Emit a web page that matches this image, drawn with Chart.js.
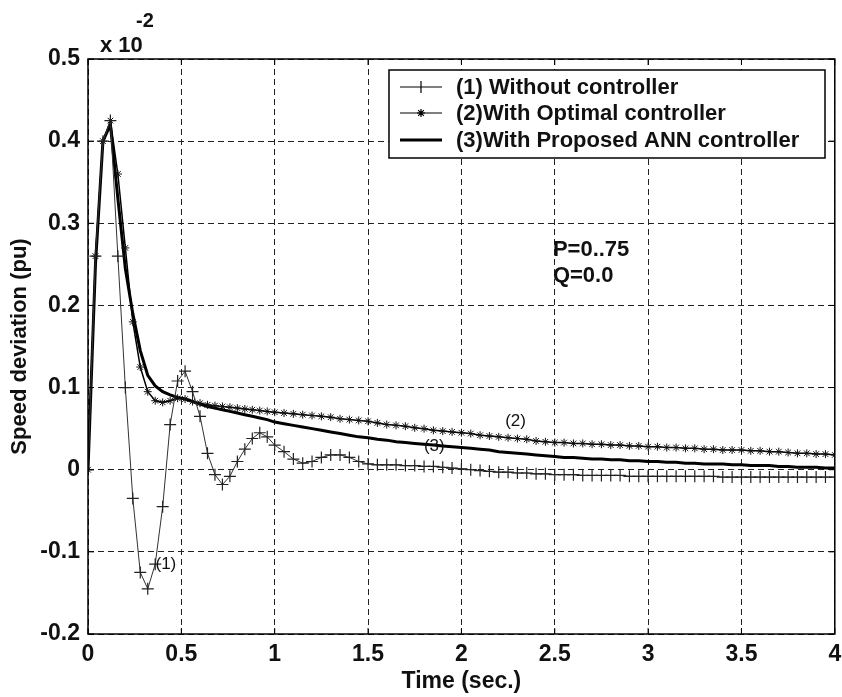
<!DOCTYPE html>
<html>
<head>
<meta charset="utf-8">
<script src="https://cdn.jsdelivr.net/npm/chart.js@4"></script>
<style>
  html, body { margin: 0; padding: 0; background: #fff; }
  #wrap { width: 842px; height: 697px; }
</style>
</head>
<body>
<div id="wrap"><canvas id="chart" width="842" height="697"></canvas></div>
<script>
// time axis (sec.)
const times = [
  0, 0.04, 0.08, 0.12, 0.16, 0.2, 0.24, 0.28, 0.32, 0.36, 0.4, 0.44, 0.48, 0.52, 0.56, 0.6,
  0.64, 0.68, 0.72, 0.76, 0.8, 0.84, 0.88, 0.92, 0.96, 1.0,
  1.05, 1.1, 1.15, 1.2, 1.25, 1.3, 1.35, 1.4, 1.45, 1.5, 1.55, 1.6, 1.65, 1.7, 1.75, 1.8, 1.85, 1.9, 1.95, 2.0,
  2.05, 2.1, 2.15, 2.2, 2.25, 2.3, 2.35, 2.4, 2.45, 2.5, 2.55, 2.6, 2.65, 2.7, 2.75, 2.8, 2.85, 2.9, 2.95, 3.0,
  3.05, 3.1, 3.15, 3.2, 3.25, 3.3, 3.35, 3.4, 3.45, 3.5, 3.55, 3.6, 3.65, 3.7, 3.75, 3.8, 3.85, 3.9, 3.95, 4.0
];

// speed deviation, x 10^-2 pu
const withoutController = [
  0, 0.26, 0.40, 0.425, 0.26, 0.10, -0.035, -0.125, -0.145, -0.115, -0.045, 0.055, 0.108, 0.12, 0.095, 0.065,
  0.02, -0.006, -0.018, -0.008, 0.01, 0.025, 0.038, 0.045, 0.04, 0.03,
  0.022, 0.013, 0.008, 0.010, 0.015, 0.018, 0.018, 0.015, 0.010, 0.007, 0.006, 0.006, 0.006, 0.005, 0.005, 0.004, 0.004, 0.003, 0.002, 0.001,
  0.000, -0.001, -0.002, -0.003, -0.003, -0.004, -0.004, -0.005, -0.005, -0.006, -0.006, -0.006, -0.007, -0.007, -0.007, -0.007, -0.007, -0.008, -0.008, -0.008,
  -0.008, -0.008, -0.008, -0.008, -0.008, -0.008, -0.008, -0.009, -0.009, -0.009, -0.009, -0.009, -0.009, -0.009, -0.009, -0.009, -0.009, -0.009, -0.009, -0.009
];

const withOptimal = [
  0, 0.26, 0.40, 0.425, 0.36, 0.27, 0.18, 0.125, 0.095, 0.084, 0.082, 0.084, 0.087, 0.086, 0.083, 0.081,
  0.079, 0.078, 0.077, 0.076, 0.075, 0.074, 0.073, 0.072, 0.071, 0.070,
  0.069, 0.068, 0.067, 0.066, 0.065, 0.064, 0.062, 0.061, 0.060, 0.059, 0.057, 0.055, 0.054, 0.053, 0.051, 0.050, 0.048, 0.047, 0.046, 0.045,
  0.044, 0.042, 0.041, 0.040, 0.039, 0.038, 0.037, 0.035, 0.034, 0.033, 0.033, 0.032, 0.032, 0.031, 0.031, 0.030, 0.030, 0.029, 0.029, 0.028,
  0.028, 0.027, 0.027, 0.026, 0.026, 0.025, 0.025, 0.024, 0.024, 0.024, 0.023, 0.023, 0.022, 0.022, 0.021, 0.020, 0.020, 0.019, 0.019, 0.018
];

const withANN = [
  0, 0.25, 0.40, 0.42, 0.33, 0.245, 0.19, 0.145, 0.115, 0.102, 0.095, 0.091, 0.088, 0.086, 0.083, 0.080,
  0.077, 0.075, 0.073, 0.071, 0.069, 0.067, 0.065, 0.063, 0.061, 0.058,
  0.056, 0.054, 0.052, 0.050, 0.048, 0.046, 0.044, 0.042, 0.040, 0.039, 0.037, 0.036, 0.034, 0.033, 0.032, 0.031, 0.030, 0.029, 0.028, 0.027,
  0.026, 0.025, 0.024, 0.022, 0.021, 0.020, 0.019, 0.018, 0.017, 0.016, 0.015, 0.015, 0.014, 0.013, 0.013, 0.012, 0.012, 0.011, 0.011, 0.010,
  0.010, 0.009, 0.009, 0.008, 0.008, 0.007, 0.007, 0.007, 0.006, 0.006, 0.005, 0.005, 0.005, 0.004, 0.004, 0.003, 0.003, 0.003, 0.002, 0.002
];

const seriesNames = ['(1) Without controller', '(2)With Optimal controller', '(3)With Proposed ANN controller'];
const xTicks = [0, 0.5, 1, 1.5, 2, 2.5, 3, 3.5, 4];
const yTicks = [-0.2, -0.1, 0, 0.1, 0.2, 0.3, 0.4, 0.5];

const FONT = '"Liberation Sans", Arial, Helvetica, sans-serif';

const toPoints = vals => times.map((t, i) => ({ x: t, y: vals[i] }));

// frame, legend box and text notes on top of the plot
const decorations = {
  id: 'decorations',
  afterDatasetsDraw(chart) {
    const { ctx, chartArea: a, scales } = chart;
    const px = v => scales.x.getPixelForValue(v);
    const py = v => scales.y.getPixelForValue(v);
    ctx.save();

    // axes box
    ctx.strokeStyle = '#000';
    ctx.lineWidth = 1.5;
    ctx.strokeRect(a.left, a.top, a.right - a.left, a.bottom - a.top);

    // small inward ticks
    ctx.lineWidth = 1;
    xTicks.forEach(t => {
      const x = px(t);
      ctx.beginPath();
      ctx.moveTo(x, a.bottom); ctx.lineTo(x, a.bottom - 6);
      ctx.moveTo(x, a.top); ctx.lineTo(x, a.top + 6);
      ctx.stroke();
    });
    yTicks.forEach(v => {
      const y = py(v);
      ctx.beginPath();
      ctx.moveTo(a.left, y); ctx.lineTo(a.left + 6, y);
      ctx.moveTo(a.right, y); ctx.lineTo(a.right - 6, y);
      ctx.stroke();
    });

    // exponent
    ctx.fillStyle = '#111';
    ctx.font = 'bold 22px ' + FONT;
    ctx.textAlign = 'left';
    ctx.textBaseline = 'middle';
    ctx.fillText('x 10', 100, 46);
    ctx.font = 'bold 20px ' + FONT;
    ctx.fillText('-2', 136, 21);

    // curve labels
    ctx.font = '17px ' + FONT;
    ctx.textAlign = 'center';
    ctx.fillText('(1)', px(0.417), py(-0.115));
    ctx.fillText('(2)', px(2.29), py(0.059));
    ctx.fillText('(3)', px(1.855), py(0.028));

    // operating point
    ctx.font = 'bold 22px ' + FONT;
    ctx.textAlign = 'left';
    ctx.fillText('P=0..75', px(2.49), py(0.268));
    ctx.fillText('Q=0.0', px(2.49), py(0.236));

    // legend
    const bx = 389, by = 70, bw = 436, bh = 88;
    ctx.fillStyle = '#fff';
    ctx.fillRect(bx, by, bw, bh);
    ctx.strokeStyle = '#000';
    ctx.lineWidth = 1.5;
    ctx.strokeRect(bx, by, bw, bh);
    const rows = [87, 113, 140];
    ctx.font = 'bold 22px ' + FONT;
    ctx.textBaseline = 'middle';
    rows.forEach((y, i) => {
      ctx.strokeStyle = '#000';
      ctx.lineWidth = i === 2 ? 3 : 1.2;
      ctx.beginPath();
      ctx.moveTo(400, y); ctx.lineTo(442, y);
      ctx.stroke();
      if (i === 0) {
        ctx.lineWidth = 1.2;
        ctx.beginPath();
        ctx.moveTo(421, y - 6); ctx.lineTo(421, y + 6);
        ctx.stroke();
      } else if (i === 1) {
        ctx.lineWidth = 1.2;
        ctx.beginPath();
        for (let k = 0; k < 4; k++) {
          const ang = k * Math.PI / 4;
          ctx.moveTo(421 - 4 * Math.cos(ang), y - 4 * Math.sin(ang));
          ctx.lineTo(421 + 4 * Math.cos(ang), y + 4 * Math.sin(ang));
        }
        ctx.stroke();
      }
      ctx.fillStyle = '#111';
      ctx.fillText(seriesNames[i], 456, y + 1);
    });

    ctx.restore();
  }
};

const ctx = document.getElementById('chart').getContext('2d');
new Chart(ctx, {
  type: 'line',
  data: {
    datasets: [
      {
        label: seriesNames[0],
        data: toPoints(withoutController),
        borderColor: '#333',
        borderWidth: 1,
        pointStyle: 'cross',
        pointRadius: 6,
        pointBorderColor: '#222',
        pointBorderWidth: 1.2,
        tension: 0
      },
      {
        label: seriesNames[1],
        data: toPoints(withOptimal),
        borderColor: '#000',
        borderWidth: 1.5,
        pointStyle: 'star',
        pointRadius: 4,
        pointBorderColor: '#111',
        pointBorderWidth: 1,
        tension: 0
      },
      {
        label: seriesNames[2],
        data: toPoints(withANN),
        borderColor: '#000',
        borderWidth: 3,
        pointRadius: 0,
        tension: 0
      }
    ]
  },
  options: {
    responsive: false,
    animation: false,
    layout: { padding: { left: 7, right: 6, top: 59, bottom: 0 } },
    plugins: {
      legend: { display: false },
      tooltip: { enabled: false }
    },
    scales: {
      x: {
        type: 'linear',
        min: 0,
        max: 4,
        afterBuildTicks: scale => { scale.ticks = xTicks.map(v => ({ value: v })); },
        afterFit: scale => { scale.height = 63; scale.paddingRight = 0; scale.paddingLeft = 0; },
        border: { display: false, dash: [6, 4] },
        grid: { color: '#222', lineWidth: 1, drawTicks: false },
        ticks: {
          color: '#111',
          padding: 7,
          maxRotation: 0,
          font: { family: FONT, size: 23, weight: 'bold' },
          callback: v => String(v)
        },
        title: {
          display: true,
          text: 'Time (sec.)',
          color: '#111',
          padding: { top: 0, bottom: 2 },
          font: { family: FONT, size: 23, weight: 'bold' }
        }
      },
      y: {
        type: 'linear',
        min: -0.2,
        max: 0.5,
        afterBuildTicks: scale => { scale.ticks = yTicks.map(v => ({ value: v })); },
        afterFit: scale => { scale.width = 81; scale.paddingTop = 0; scale.paddingBottom = 0; },
        border: { display: false, dash: [6, 4] },
        grid: { color: '#222', lineWidth: 1, drawTicks: false },
        ticks: {
          color: '#111',
          padding: 8,
          font: { family: FONT, size: 23, weight: 'bold' },
          callback: v => String(Number(v.toFixed(1)))
        },
        title: {
          display: true,
          text: 'Speed deviation (pu)',
          color: '#111',
          padding: { top: 0, bottom: 0 },
          font: { family: FONT, size: 22, weight: 'bold' }
        }
      }
    }
  },
  plugins: [decorations]
});
</script>
</body>
</html>
